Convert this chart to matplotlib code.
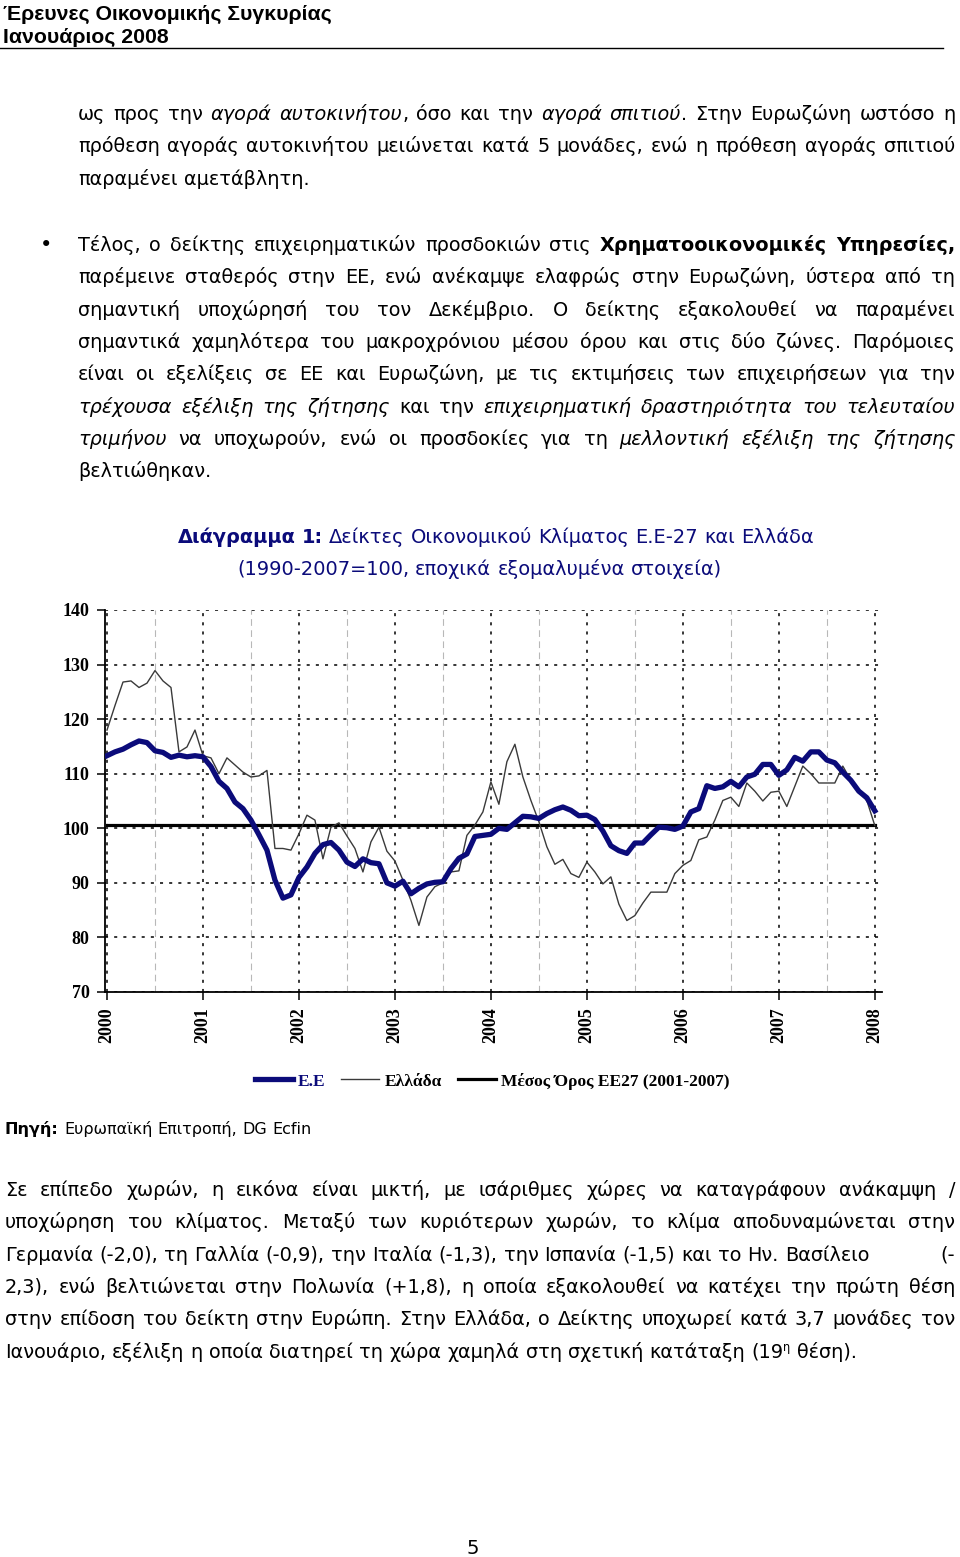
import numpy as np
import matplotlib
matplotlib.use("Agg")
import matplotlib.pyplot as plt
from matplotlib.font_manager import FontProperties, fontManager
from matplotlib.lines import Line2D

# monthly values, Jan 2000 .. Jan 2008
eu = [113.3, 114.0, 114.5, 115.3, 116.0, 115.7, 114.2, 113.9, 113.0, 113.4, 113.1, 113.3,
      113.1, 111.3, 108.6, 107.3, 104.8, 103.6, 101.5, 98.8, 96.0, 90.5, 87.2, 87.8,
      91.0, 92.9, 95.4, 97.0, 97.4, 96.0, 93.8, 93.0, 94.4, 93.7, 93.5, 90.0,
      89.4, 90.3, 88.0, 89.0, 89.8, 90.1, 90.2, 92.6, 94.5, 95.3, 98.5, 98.7,
      98.9, 100.0, 99.8, 101.0, 102.2, 102.1, 101.8, 102.7, 103.4, 103.9, 103.3, 102.3,
      102.4, 101.6, 99.5, 96.8, 95.9, 95.4, 97.3, 97.3, 98.8, 100.2, 100.1, 99.8,
      100.4, 103.0, 103.6, 107.8, 107.3, 107.6, 108.6, 107.6, 109.4, 109.9, 111.7, 111.7,
      109.7, 110.7, 113.0, 112.3, 114.0, 114.0, 112.5, 112.0, 110.3, 108.8, 106.8, 105.6,
      103.2]
greece = [118.0, 122.5, 126.8, 127.0, 125.8, 126.6, 128.9, 127.0, 125.8, 114.0, 114.9, 118.0,
          113.3, 112.9, 110.0, 112.9, 111.6, 110.3, 109.4, 109.6, 110.6, 96.3, 96.3, 96.0,
          99.0, 102.4, 101.5, 94.4, 100.2, 101.0, 98.6, 96.3, 92.0, 97.5, 100.2, 95.8,
          94.0, 90.5, 86.8, 82.2, 87.4, 89.3, 90.0, 92.0, 92.2, 98.7, 100.6, 103.0,
          108.5, 104.4, 112.2, 115.4, 109.4, 105.1, 101.2, 96.6, 93.4, 94.3, 91.7, 91.0,
          93.8, 92.0, 89.8, 91.1, 86.1, 83.1, 84.0, 86.3, 88.3, 88.3, 88.3, 91.7,
          93.2, 94.1, 97.9, 98.4, 101.5, 105.1, 105.7, 104.0, 108.3, 106.8, 105.0, 106.6,
          106.8, 104.0, 107.7, 111.4, 110.0, 108.3, 108.3, 108.3, 111.4, 108.8, 106.6, 105.1,
          100.5]
mean_ee27 = 100.6
years = ["2000", "2001", "2002", "2003", "2004", "2005", "2006", "2007", "2008"]
legend_labels = ["Ε.Ε", "Ελλάδα", "Μέσος Όρος ΕΕ27 (2001-2007)"]

header = ["Έρευνες Οικονομικής Συγκυρίας", "Ιανουάριος 2008"]
title = [[("Διάγραμμα 1:", "b"), (" Δείκτες Οικονομικού Κλίματος Ε.Ε-27 και Ελλάδα", "n")],
         [("(1990-2007=100, εποχικά εξομαλυμένα στοιχεία)", "n")]]
source = [("Πηγή:", "b"), (" Ευρωπαϊκή Επιτροπή, DG Ecfin", "n")]

par1 = [
    [("ως προς την ", "n"), ("αγορά αυτοκινήτου", "i"), (", όσο και την ", "n"),
     ("αγορά σπιτιού", "i"), (". Στην Ευρωζώνη ωστόσο η", "n")],
    [("πρόθεση αγοράς αυτοκινήτου μειώνεται κατά 5 μονάδες, ενώ η πρόθεση αγοράς σπιτιού", "n")],
    [("παραμένει αμετάβλητη.", "n")],
]
par2 = [
    [("Τέλος, ο δείκτης επιχειρηματικών προσδοκιών στις ", "n"),
     ("Χρηματοοικονομικές Υπηρεσίες,", "b")],
    [("παρέμεινε σταθερός στην ΕΕ, ενώ ανέκαμψε ελαφρώς στην Ευρωζώνη, ύστερα από τη", "n")],
    [("σημαντική υποχώρησή του τον Δεκέμβριο. Ο δείκτης εξακολουθεί να παραμένει", "n")],
    [("σημαντικά χαμηλότερα του μακροχρόνιου μέσου όρου και στις δύο ζώνες. Παρόμοιες", "n")],
    [("είναι οι εξελίξεις σε ΕΕ και Ευρωζώνη, με τις εκτιμήσεις των επιχειρήσεων για την", "n")],
    [("τρέχουσα εξέλιξη της ζήτησης", "i"), (" και την ", "n"),
     ("επιχειρηματική δραστηριότητα του τελευταίου", "i")],
    [("τριμήνου", "i"), (" να υποχωρούν, ενώ οι προσδοκίες για τη ", "n"),
     ("μελλοντική εξέλιξη της ζήτησης", "i")],
    [("βελτιώθηκαν.", "n")],
]
par3 = [
    [("Σε επίπεδο χωρών, η εικόνα είναι μικτή, με ισάριθμες χώρες να καταγράφουν ανάκαμψη /", "n")],
    [("υποχώρηση του κλίματος. Μεταξύ των κυριότερων χωρών, το κλίμα αποδυναμώνεται στην", "n")],
    [("Γερμανία (-2,0), τη Γαλλία (-0,9), την Ιταλία (-1,3), την Ισπανία (-1,5) και το Ην. Βασίλειο", "n")],
    [("2,3), ενώ βελτιώνεται στην Πολωνία (+1,8), η οποία εξακολουθεί να κατέχει την πρώτη θέση", "n")],
    [("στην επίδοση του δείκτη στην Ευρώπη. Στην Ελλάδα, ο Δείκτης υποχωρεί κατά 3,7 μονάδες τον", "n")],
    [("Ιανουάριο, εξέλιξη η οποία διατηρεί τη χώρα χαμηλά στη σχετική κατάταξη (19", "n"),
     ("η", "s"), (" θέση).", "n")],
]

W, H = 960, 1557
fig = plt.figure(figsize=(9.6, 15.57), dpi=100)
renderer = fig.canvas.get_renderer()

BODY = "DejaVu Sans"
narrow_bold = any(f.name == "Liberation Sans Narrow" and f.weight in (700, "bold")
                  for f in fontManager.ttflist)
HEAD = "Liberation Sans Narrow" if narrow_bold else "Liberation Sans"
SERIF = "Liberation Serif"
NAVY = "#0b0b7a"


def props(style, size, family=BODY):
    if style == "s":
        return FontProperties(family=family, size=size * 0.6)
    return FontProperties(family=family, size=size,
                          weight="bold" if style == "b" else "normal",
                          style="italic" if style == "i" else "normal")


def width(s, fp):
    return renderer.get_text_width_height_descent(s, fp, ismath=False)[0]


def seg_width(segs, size, family=BODY):
    return sum(width(t, props(st, size, family)) for t, st in segs)


def fit(segs, target, family=BODY):
    return 10 * target / seg_width(segs, 10, family)


def put(x, y, s, fp, **kw):
    fig.text(x / W, 1 - y / H, s, fontproperties=fp, va="baseline", ha="left", **kw)


def line(y, x0, x1, segs, size, justify=True, color="black"):
    words = [[]]
    for text, style in segs:
        for i, p in enumerate(text.split(" ")):
            if i > 0:
                words.append([])
            if p:
                words[-1].append((p, style))
    words = [w for w in words if w]
    ws = [sum(width(p, props(st, size)) for p, st in w) for w in words]
    fp = props("n", size)
    space = width("a a", fp) - width("aa", fp)
    gap = (x1 - x0 - sum(ws)) / (len(words) - 1) if justify and len(words) > 1 else space
    x = x0
    for w, wd in zip(words, ws):
        xx = x
        for p, st in w:
            f = props(st, size)
            put(xx, y - (7 if st == "s" else 0), p, f, color=color)
            xx += width(p, f)
        x += wd + gap


# header
hs = fit([(header[0], "b")], 329, HEAD)
put(3, 20, header[0], props("b", hs, HEAD))
put(3, 43, header[1], props("b", hs, HEAD))
fig.add_artist(Line2D([0, 943 / W], [1 - 47.5 / H] * 2, color="black", lw=1))

body = fit(par3[-1], 847)
step = 32.3

for i, segs in enumerate(par1):
    line(120 + i * step, 78, 955, segs, body, justify=i < len(par1) - 1)

put(40, 251, "•", props("n", body * 1.1))
for i, segs in enumerate(par2):
    line(251 + i * step, 78, 955, segs, body, justify=i < len(par2) - 1)

for i, segs in enumerate(par3):
    y = 1196 + i * step
    if i == 2:
        line(y, 5, 955, segs, body, justify=False)
        fp = props("n", body)
        put(955 - width("(-", fp), y, "(-", fp)
    else:
        line(y, 5, 955, segs, body, justify=i < len(par3) - 1)

ts = fit(title[0], 632)
line(543, 178, 810, title[0], ts, justify=False, color=NAVY)
line(575, 237, 721, title[1], ts, justify=False, color=NAVY)

ss = fit(source, 306)
line(1134, 5, 311, source, ss, justify=False)

put(466, 1554, "5", props("n", 14))

# chart
ax = fig.add_axes([105 / W, 1 - 992 / H, 777 / W, 382 / H])
months = np.arange(len(eu))
ax.plot(months, [mean_ee27] * len(months), color="black", lw=2.3, zorder=3)
ax.plot(months, greece, color="#3a3a3a", lw=1.0, zorder=4)
ax.plot(months, eu, color=NAVY, lw=3.8, zorder=5, solid_joinstyle="round")
ax.set_xlim(-0.25, 96.9)
ax.set_ylim(70, 140)
ax.set_yticks(range(70, 141, 10))
ax.set_xticks(np.arange(0, len(eu), 12))
ax.set_xticklabels(years, rotation=90)
ax.set_xticks(np.arange(6, len(eu), 12), minor=True)
ax.grid(which="major", color="black", lw=1.1, ls=(0, (2, 4)))
ax.grid(which="minor", axis="x", color="#b8b8b8", lw=0.8, ls=(0, (6, 4)))
ax.tick_params(which="minor", length=0)
ax.tick_params(which="major", direction="out", length=6, width=1.1, pad=5)
for s in ["top", "right"]:
    ax.spines[s].set_visible(False)
for s in ["left", "bottom"]:
    ax.spines[s].set_linewidth(1.3)
tick_fp = FontProperties(family=SERIF, weight="bold", size=13)
for lab in ax.get_xticklabels() + ax.get_yticklabels():
    lab.set_fontproperties(tick_fp)

handles = [Line2D([], [], color=NAVY, lw=3.8),
           Line2D([], [], color="#3a3a3a", lw=1.0),
           Line2D([], [], color="black", lw=2.3)]
leg = fig.legend(handles, legend_labels, loc="center", bbox_to_anchor=(492 / W, 1 - 1081 / H),
                 ncol=3, frameon=False, handlelength=2.2, handletextpad=0.3, columnspacing=0.9,
                 prop=FontProperties(family=SERIF, weight="bold", size=12.5))
leg.get_texts()[0].set_color(NAVY)

fig.savefig("out.png", dpi=100)
